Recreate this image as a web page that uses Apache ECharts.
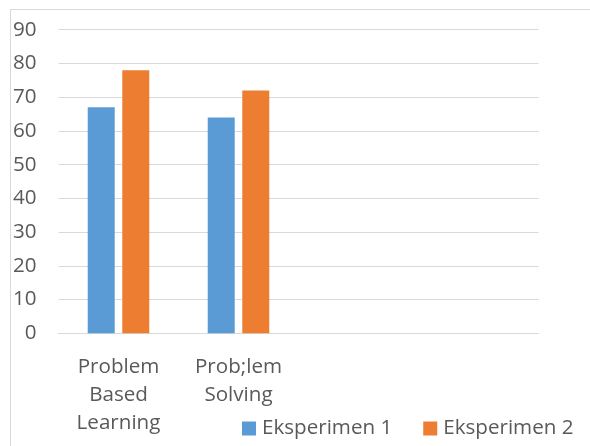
<!DOCTYPE html>
<html>
<head>
<meta charset="utf-8">
<script src="https://cdn.jsdelivr.net/npm/echarts@6/dist/echarts.min.js"></script>
<style>
html,body{margin:0;padding:0;background:#fff;}
#c{width:590px;height:446px;}
</style>
</head>
<body>
<div id="c"></div>
<script>
var categories = ['Problem\nBased\nLearning', 'Prob;lem\nSolving', '', ''];
var seriesNames = ['Eksperimen 1', 'Eksperimen 2'];
var eksperimen1 = [67, 64, null, null];
var eksperimen2 = [78, 72, null, null];
var yTicks = { min: 0, max: 90, interval: 10 };

var chart = echarts.init(document.getElementById('c'));
var font = '"Open Sans", sans-serif';
chart.setOption({
  animation: false,
  backgroundColor: '#fff',
  graphic: [{
    type: 'rect',
    left: 8, top: 7,
    shape: { width: 700, height: 600 },
    style: { fill: 'none', stroke: '#d9d9d9', lineWidth: 1 },
    silent: true
  }],
  grid: { left: 58.5, right: 51.5, top: 29.7, bottom: 112.7, containLabel: false },
  legend: {
    left: 237, top: 413,
    itemWidth: 14, itemHeight: 14, itemGap: 31,
    icon: 'rect',
    textStyle: { fontFamily: font, fontSize: 20.6, color: '#595959', padding: [0, 0, 0, 1] },
    data: seriesNames
  },
  xAxis: {
    type: 'category',
    data: categories,
    axisLine: { lineStyle: { color: '#d9d9d9', width: 1 } },
    axisTick: { show: false },
    axisLabel: { interval: 0, margin: 19.5, fontFamily: font, fontSize: 20.6, lineHeight: 28.3, color: '#595959' }
  },
  yAxis: {
    type: 'value',
    min: yTicks.min, max: yTicks.max, interval: yTicks.interval,
    axisLine: { show: false },
    axisTick: { show: false },
    splitLine: { lineStyle: { color: '#d9d9d9', width: 1 } },
    axisLabel: { margin: 22, fontFamily: font, fontSize: 20.6, color: '#595959' }
  },
  series: [
    { name: seriesNames[0], type: 'bar', data: eksperimen1, barWidth: 27, barGap: '28%', itemStyle: { color: '#5B9BD5' } },
    { name: seriesNames[1], type: 'bar', data: eksperimen2, barWidth: 27, barGap: '28%', itemStyle: { color: '#ED7D31' } }
  ]
});
</script>
</body>
</html>
